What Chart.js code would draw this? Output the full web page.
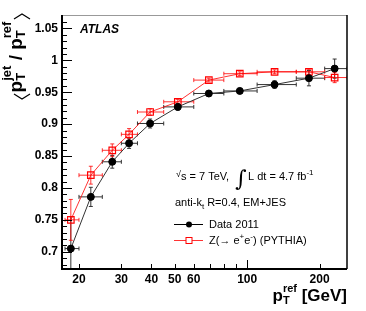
<!DOCTYPE html>
<html>
<head>
<meta charset="utf-8">
<script src="https://cdn.jsdelivr.net/npm/chart.js@4/dist/chart.umd.min.js"></script>
<style>
  body { margin: 0; background: #fff; }
</style>
</head>
<body>
<canvas id="chart" width="366" height="311"></canvas>
<script>
// p_T^ref bins (GeV)
const ptRef   = [18.5, 22.4, 27.5, 32.3, 39.5, 51.5, 69.3, 93.2, 130, 180.6, 231];
const binLow  = [17.5, 20, 25, 30, 35, 45, 60, 80, 110, 160, 210];
const binHigh = [20, 25, 30, 35, 45, 60, 80, 110, 160, 210, 260];

// <pT jet / pT ref>
const dataResp = [0.705, 0.786, 0.841, 0.870, 0.901, 0.927, 0.948, 0.952, 0.962, 0.972, 0.987];
const dataErr  = [0.05, 0.015, 0.010, 0.008, 0.007, 0.005, 0.004, 0.004, 0.006, 0.012, 0.015];
const mcResp   = [0.750, 0.820, 0.859, 0.884, 0.919, 0.935, 0.969, 0.979, 0.982, 0.982, 0.973];
const mcErr    = [0.032, 0.014, 0.010, 0.009, 0.005, 0.004, 0.003, 0.003, 0.003, 0.004, 0.008];

const xTickLabels = [20, 30, 40, 50, 60, 100, 200];
const xMinorTicks = [20, 30, 40, 50, 60, 70, 80, 90, 200];
const xLongTicks  = [100];
const yTickLabels = [0.7, 0.75, 0.8, 0.85, 0.9, 0.95, 1, 1.05];

const FONT = '"Liberation Sans", Arial, Helvetica, sans-serif';

const toPoints = (xs, ys) => xs.map((x, i) => ({ x: x, y: ys[i] }));

// draw a row of text pieces, pieces may be {sup, sub} stacks
function drawRich(ctx, x, y, parts, align) {
  const widthOf = p => {
    if (p.t !== undefined) { ctx.font = p.f; return ctx.measureText(p.t).width; }
    ctx.font = p.f;
    return Math.max(ctx.measureText(p.sup || '').width, ctx.measureText(p.sub || '').width);
  };
  const total = parts.reduce((s, p) => s + widthOf(p), 0);
  let cx = x;
  if (align === 'right') cx = x - total;
  if (align === 'center') cx = x - total / 2;
  ctx.textBaseline = 'alphabetic';
  ctx.textAlign = 'left';
  parts.forEach(p => {
    const w = widthOf(p);
    ctx.font = p.f;
    if (p.t !== undefined) {
      ctx.fillText(p.t, cx, y + (p.dy || 0));
    } else {
      if (p.sup) ctx.fillText(p.sup, cx, y + p.supDy);
      if (p.sub) ctx.fillText(p.sub, cx, y + p.subDy);
    }
    cx += w;
  });
}

const errorBars = {
  id: 'errorBars',
  beforeDatasetsDraw(chart) {
    const { ctx, chartArea: a, scales: { x, y } } = chart;
    const sets = [
      { ys: dataResp, es: dataErr, color: '#333' },
      { ys: mcResp, es: mcErr, color: 'rgba(255,0,0,0.8)' }
    ];
    ctx.save();
    ctx.beginPath();
    ctx.rect(a.left, a.top, a.right - a.left, a.bottom - a.top);
    ctx.clip();
    ctx.lineWidth = 1;
    sets.forEach(s => {
      ctx.strokeStyle = s.color;
      ptRef.forEach((px, i) => {
        const xc = x.getPixelForValue(px);
        const yc = y.getPixelForValue(s.ys[i]);
        const x0 = x.getPixelForValue(binLow[i]);
        const x1 = x.getPixelForValue(binHigh[i]);
        const y0 = y.getPixelForValue(s.ys[i] - s.es[i]);
        const y1 = y.getPixelForValue(s.ys[i] + s.es[i]);
        ctx.beginPath();
        ctx.moveTo(x0, yc); ctx.lineTo(x1, yc);
        ctx.moveTo(x0, yc - 2); ctx.lineTo(x0, yc + 2);
        ctx.moveTo(x1, yc - 2); ctx.lineTo(x1, yc + 2);
        ctx.moveTo(xc, y0); ctx.lineTo(xc, y1);
        ctx.moveTo(xc - 2, y0); ctx.lineTo(xc + 2, y0);
        ctx.moveTo(xc - 2, y1); ctx.lineTo(xc + 2, y1);
        ctx.stroke();
      });
    });
    ctx.restore();
  }
};

const decorations = {
  id: 'decorations',
  afterDraw(chart) {
    const { ctx, chartArea: a, scales: { x, y } } = chart;
    ctx.save();

    // frame
    ctx.strokeStyle = '#999';
    ctx.lineWidth = 1;
    ctx.beginPath(); ctx.moveTo(a.left, a.top + 0.5); ctx.lineTo(a.right, a.top + 0.5); ctx.stroke();
    ctx.strokeStyle = '#000';
    ctx.lineWidth = 1.5;
    ctx.beginPath(); ctx.moveTo(a.right, a.top); ctx.lineTo(a.right, a.bottom); ctx.stroke();
    ctx.lineWidth = 2;
    ctx.beginPath();
    ctx.moveTo(a.left, a.top); ctx.lineTo(a.left, a.bottom); ctx.lineTo(a.right, a.bottom);
    ctx.stroke();

    // ticks
    ctx.lineWidth = 1;
    ctx.beginPath();
    for (let v = 0.68; v <= 1.07; v += 0.01) {
      const yy = Math.round(y.getPixelForValue(v)) + 0.5;
      const major = Math.abs(v * 20 - Math.round(v * 20)) < 1e-6;
      ctx.moveTo(a.left, yy); ctx.lineTo(a.left + (major ? 10 : 5), yy);
    }
    xMinorTicks.forEach(v => {
      const xx = Math.round(x.getPixelForValue(v)) + 0.5;
      ctx.moveTo(xx, a.bottom); ctx.lineTo(xx, a.bottom - 5);
    });
    xLongTicks.forEach(v => {
      const xx = Math.round(x.getPixelForValue(v)) + 0.5;
      ctx.moveTo(xx, a.bottom); ctx.lineTo(xx, a.bottom - 9);
    });
    ctx.stroke();

    ctx.fillStyle = '#000';

    // ATLAS label
    ctx.font = 'italic bold 12px ' + FONT;
    ctx.textAlign = 'left';
    ctx.textBaseline = 'alphabetic';
    ctx.fillText('ATLAS', 80, 33);

    // text block
    const f = '11px ' + FONT;
    const fs = '8px ' + FONT;
    drawRich(ctx, 176, 180, [
      { t: '\u221A', f: '9px ' + FONT, dy: -3 },
      { t: 's = 7 TeV,  ', f: f }
    ]);
    ctx.font = '22px "DejaVu Serif", serif';
    ctx.fillText('\u222B', 235, 186);
    drawRich(ctx, 248, 180, [
      { t: 'L dt = 4.7 fb', f: f },
      { t: '-1', f: fs, dy: -5 }
    ]);
    drawRich(ctx, 175, 206, [
      { t: 'anti-k', f: f },
      { t: 't', f: fs, dy: 3 },
      { t: ' R=0.4, EM+JES', f: f }
    ]);

    // legend
    ctx.lineWidth = 1;
    ctx.strokeStyle = '#000';
    ctx.beginPath(); ctx.moveTo(174, 224.5); ctx.lineTo(203, 224.5); ctx.stroke();
    ctx.beginPath(); ctx.arc(189, 224.5, 3, 0, Math.PI * 2); ctx.fill();
    ctx.strokeStyle = 'rgba(255,0,0,0.8)';
    ctx.beginPath(); ctx.moveTo(174, 240.5); ctx.lineTo(203, 240.5); ctx.stroke();
    ctx.strokeStyle = '#f00';
    ctx.fillStyle = '#fff';
    ctx.fillRect(186, 237.5, 6, 6);
    ctx.strokeRect(186, 237.5, 6, 6);
    ctx.fillStyle = '#000';
    drawRich(ctx, 209, 228, [{ t: chart.data.datasets[0].label, f: f }]);
    drawRich(ctx, 209, 244, [
      { t: 'Z(\u2192 e', f: f },
      { t: '+', f: fs, dy: -5 },
      { t: 'e', f: f },
      { t: '-', f: fs, dy: -5 },
      { t: ') (PYTHIA)', f: f }
    ]);

    // x axis title
    const bx = 'bold 17px ' + FONT;
    const sx = 'bold 11px ' + FONT;
    drawRich(ctx, 347, 301, [
      { t: 'p', f: bx },
      { sup: 'ref', sub: 'T', f: sx, supDy: -9, subDy: 3 },
      { t: ' [GeV]', f: bx }
    ], 'right');

    // y axis title (rotated)
    ctx.save();
    ctx.translate(22, 57);
    ctx.rotate(-Math.PI / 2);
    const by = 'bold 19px ' + FONT;
    const sy = 'bold 13px ' + FONT;
    const parts = [
      { t: ' ', f: by },
      { t: 'p', f: by },
      { sup: 'jet', sub: 'T', f: sy, supDy: -11, subDy: 3 },
      { t: ' / ', f: by },
      { t: 'p', f: by },
      { sup: 'ref', sub: 'T', f: sy, supDy: -11, subDy: 3 },
      { t: ' ', f: by }
    ];
    drawRich(ctx, 0, 0, parts, 'center');
    // angle brackets
    ctx.strokeStyle = '#000';
    ctx.lineWidth = 1.2;
    ctx.beginPath();
    ctx.moveTo(-37, -8); ctx.lineTo(-42, 0); ctx.lineTo(-37, 8);
    ctx.moveTo(38, -8); ctx.lineTo(43, 0); ctx.lineTo(38, 8);
    ctx.stroke();
    ctx.restore();

    ctx.restore();
  }
};

new Chart(document.getElementById('chart'), {
  type: 'scatter',
  data: {
    datasets: [
      {
        label: 'Data 2011',
        data: toPoints(ptRef, dataResp),
        showLine: true,
        borderColor: '#333',
        borderWidth: 1,
        pointStyle: 'circle',
        pointRadius: 3.5,
        pointBackgroundColor: '#000',
        pointBorderColor: '#000',
        order: 1
      },
      {
        label: 'Z(\u2192 e+e-) (PYTHIA)',
        data: toPoints(ptRef, mcResp),
        showLine: true,
        borderColor: 'rgba(255,0,0,0.8)',
        borderWidth: 1,
        pointStyle: 'rect',
        pointRadius: 4.6,
        pointBackgroundColor: 'rgba(255,255,255,0)',
        pointBorderColor: '#f00',
        pointBorderWidth: 1.2,
        order: 2
      }
    ]
  },
  options: {
    responsive: false,
    animation: false,
    layout: { padding: { left: 0, right: 19, top: 15, bottom: 0 } },
    plugins: { legend: { display: false }, tooltip: { enabled: false } },
    scales: {
      x: {
        type: 'logarithmic',
        min: 17,
        max: 260,
        grid: { display: false, drawTicks: false },
        border: { display: false },
        afterFit: s => { s.height = 42; },
        afterBuildTicks: s => { s.ticks = xTickLabels.map(v => ({ value: v })); },
        ticks: {
          autoSkip: false,
          maxRotation: 0,
          padding: 3,
          color: '#000',
          font: { family: FONT, size: 12, weight: 'bold' },
          callback: v => String(v)
        }
      },
      y: {
        min: 0.673,
        max: 1.071,
        grid: { display: false, drawTicks: false },
        border: { display: false },
        afterFit: s => { s.width = 62; },
        afterBuildTicks: s => { s.ticks = yTickLabels.map(v => ({ value: v })); },
        ticks: {
          padding: 4,
          color: '#000',
          font: { family: FONT, size: 12, weight: 'bold' },
          callback: v => String(v)
        }
      }
    }
  },
  plugins: [errorBars, decorations]
});
</script>
</body>
</html>
